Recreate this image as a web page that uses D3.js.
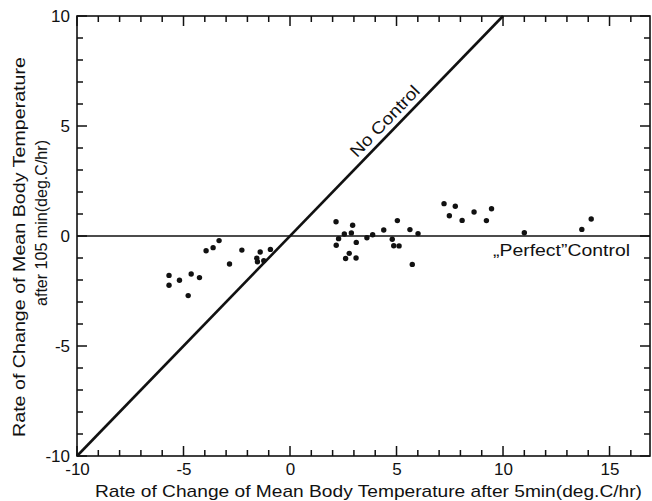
<!DOCTYPE html>
<html>
<head>
<meta charset="utf-8">
<script src="https://cdn.jsdelivr.net/npm/d3@7"></script>
<style>
body { margin: 0; background: #fff; }
text { font-family: "Liberation Sans", "DejaVu Sans", sans-serif; fill: #111; }
</style>
</head>
<body>
<script>
// measured points (deg.C/hr)
var ptsX = [-3.33,-3.94,-3.61,-2.26,-2.84,-1.40,-0.92,-1.56,-1.53,-1.23,-5.68,-5.68,-5.19,-4.64,-4.25,-4.78,
	2.16,2.94,2.55,2.88,2.28,2.17,3.11,3.61,3.88,2.78,2.61,3.10,4.40,5.04,4.80,4.87,5.12,5.63,6.01,5.74,
	7.23,7.76,7.48,8.08,8.64,9.46,9.22,11.0,14.14,13.70];
var ptsY = [-0.21,-0.67,-0.53,-0.64,-1.27,-0.73,-0.61,-1.01,-1.17,-1.12,-1.79,-2.24,-2.01,-1.73,-1.89,-2.71,
	0.65,0.49,0.09,0.14,-0.12,-0.42,-0.29,-0.08,0.06,-0.79,-1.02,-1.00,0.27,0.70,-0.15,-0.44,-0.45,0.29,0.11,-1.29,
	1.47,1.35,0.92,0.71,1.09,1.24,0.70,0.15,0.77,0.30];

var noControlX = [-10, 10];
var noControlY = [-10, 10];
var perfectX = [-10, 16.9];
var perfectY = [0, 0];

var xTicks = d3.range(-10, 17);
var yTicks = d3.range(-10, 11);
var xLabels = [-10, -5, 0, 5, 10, 15];
var yLabels = [-10, -5, 0, 5, 10];

var width = 652, height = 501;

var x = d3.scaleLinear().domain([-10, 16.9]).range([77, 650]);
var y = d3.scaleLinear().domain([-10, 10]).range([456, 16]);

var svg = d3.select("body").append("svg")
	.attr("width", width)
	.attr("height", height);

var len = function(d) { return d % 5 === 0 ? 10 : 6; };

// tick labels through d3 axes (tick marks drawn below)
svg.append("g")
	.attr("transform", "translate(0," + y(-10) + ")")
	.call(d3.axisBottom(x).tickValues(xLabels).tickSize(0).tickPadding(7).tickFormat(function(d) { return String(d); }));
svg.append("g")
	.attr("transform", "translate(" + x(-10) + ",0)")
	.call(d3.axisLeft(y).tickValues(yLabels).tickSize(0).tickPadding(7).tickFormat(function(d) { return String(d); }));
svg.selectAll(".domain").remove();
svg.selectAll(".tick text").attr("font-size", "17px").attr("font-family", "Liberation Sans, sans-serif").attr("fill", "#111");

// inward ticks on all four sides, as one path
var tp = d3.path();
xTicks.forEach(function(d) {
	tp.moveTo(x(d), y(-10)); tp.lineTo(x(d), y(-10) - len(d));
	tp.moveTo(x(d), y(10)); tp.lineTo(x(d), y(10) + len(d));
});
yTicks.forEach(function(d) {
	tp.moveTo(x(-10), y(d)); tp.lineTo(x(-10) + len(d), y(d));
	tp.moveTo(x(16.9), y(d)); tp.lineTo(x(16.9) - len(d), y(d));
});
svg.append("path")
	.attr("d", tp.toString())
	.attr("fill", "none")
	.attr("stroke", "#111")
	.attr("stroke-width", 1.5);

// frame
svg.append("rect")
	.attr("x", x(-10)).attr("y", y(10))
	.attr("width", x(16.9) - x(-10))
	.attr("height", y(-10) - y(10))
	.attr("fill", "none")
	.attr("stroke", "#111")
	.attr("stroke-width", 1.6);

var line = d3.line().x(function(d) { return x(d[0]); }).y(function(d) { return y(d[1]); });

svg.append("path")
	.attr("d", line(d3.zip(perfectX, perfectY)))
	.attr("stroke", "#111").attr("stroke-width", 1.6).attr("fill", "none");

svg.append("path")
	.attr("d", line(d3.zip(noControlX, noControlY)))
	.attr("stroke", "#111").attr("stroke-width", 2.6).attr("fill", "none");

svg.selectAll("circle.pt")
	.data(d3.zip(ptsX, ptsY))
	.enter().append("circle")
	.attr("class", "pt")
	.attr("cx", function(d) { return x(d[0]); })
	.attr("cy", function(d) { return y(d[1]); })
	.attr("r", 2.7)
	.attr("fill", "#111");

// line labels
var ang = -Math.atan((y(0) - y(1)) / (x(1) - x(0))) * 180 / Math.PI;
svg.append("text")
	.attr("transform", "translate(" + x(4.85) + "," + y(4.85) + ") rotate(" + ang + ")")
	.attr("dy", -6)
	.attr("text-anchor", "middle")
	.attr("font-size", "17px")
	.attr("textLength", 92)
	.attr("lengthAdjust", "spacingAndGlyphs")
	.text("No Control");

svg.append("text")
	.attr("x", 493)
	.attr("y", 256)
	.attr("font-size", "17px")
	.attr("textLength", 137)
	.attr("lengthAdjust", "spacingAndGlyphs")
	.text("\u201EPerfect\u201DControl");

// axis titles
svg.append("text")
	.attr("x", 95)
	.attr("y", 497)
	.attr("font-size", "17px")
	.attr("textLength", 547)
	.attr("lengthAdjust", "spacingAndGlyphs")
	.text("Rate of Change of Mean Body Temperature after 5min(deg.C/hr)");

svg.append("text")
	.attr("transform", "translate(25,437) rotate(-90)")
	.attr("font-size", "17px")
	.attr("textLength", 380)
	.attr("lengthAdjust", "spacingAndGlyphs")
	.text("Rate of Change of Mean Body Temperature");

svg.append("text")
	.attr("transform", "translate(47,306) rotate(-90)")
	.attr("font-size", "17px")
	.attr("textLength", 166)
	.attr("lengthAdjust", "spacingAndGlyphs")
	.text("after 105 min(deg.C/hr)");
</script>
</body>
</html>
